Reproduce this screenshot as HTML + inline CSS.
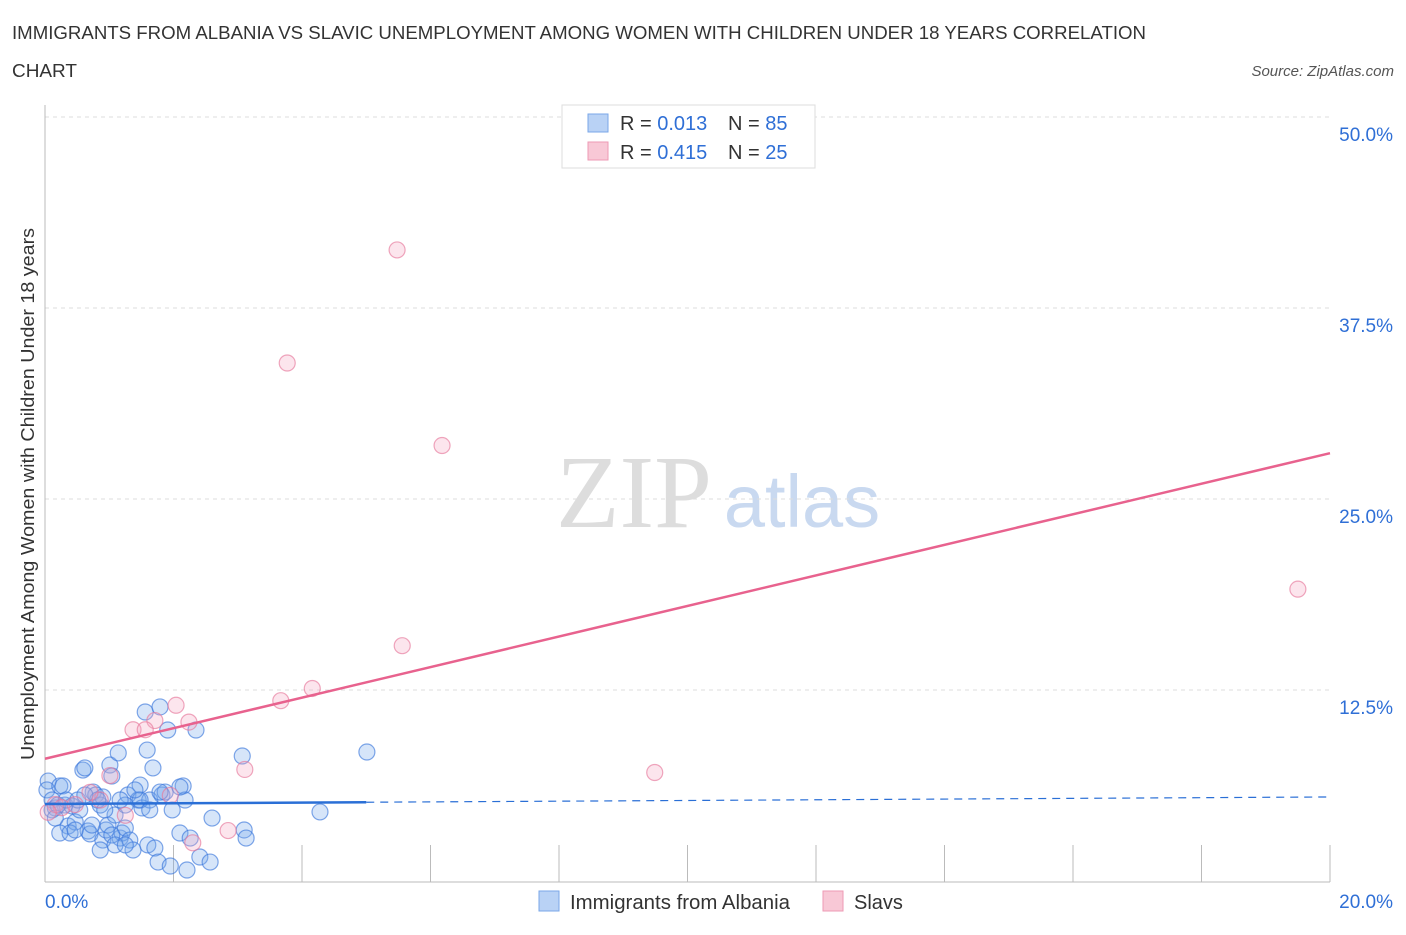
<!DOCTYPE html>
<html><head><meta charset="utf-8"><style>
body{margin:0;background:#fff;font-family:"Liberation Sans",sans-serif;}
</style></head><body>
<svg width="1406" height="930" xmlns="http://www.w3.org/2000/svg" id="chart">
<text x="12" y="39" font-size="18" fill="#333" textLength="1134" lengthAdjust="spacingAndGlyphs">IMMIGRANTS FROM ALBANIA VS SLAVIC UNEMPLOYMENT AMONG WOMEN WITH CHILDREN UNDER 18 YEARS CORRELATION</text>
<text x="12" y="77" font-size="18" fill="#333" textLength="65" lengthAdjust="spacingAndGlyphs">CHART</text>
<text x="1394" y="76" font-size="15" fill="#555" font-style="italic" text-anchor="end">Source: ZipAtlas.com</text>
<g>
<text x="634" y="527" font-size="104" font-family="Liberation Serif,serif" fill="#ddd" text-anchor="middle">ZIP</text>
<text x="802" y="527" font-size="74" fill="#c9d9f0" text-anchor="middle">atlas</text>
</g>
<g id="grid"></g><g id="axes"></g><g id="marks"></g>
<text transform="translate(34,494) rotate(-90)" font-size="18" fill="#333" text-anchor="middle" textLength="532" lengthAdjust="spacingAndGlyphs">Unemployment Among Women with Children Under 18 years</text>
<g>
<rect x="562" y="105" width="253" height="63" fill="#fff" stroke="#ddd"/>
<rect x="588" y="114" width="20" height="18" fill="#b9d2f5" stroke="#7aa7e8"/>
<rect x="588" y="142" width="20" height="18" fill="#f8c8d6" stroke="#ee9ab4"/>
<text x="620" y="130" font-size="20" fill="#333">R = <tspan fill="#2f6fd6">0.013</tspan></text>
<text x="728" y="130" font-size="20" fill="#333">N = <tspan fill="#2f6fd6">85</tspan></text>
<text x="620" y="159" font-size="20" fill="#333">R = <tspan fill="#2f6fd6">0.415</tspan></text>
<text x="728" y="159" font-size="20" fill="#333">N = <tspan fill="#2f6fd6">25</tspan></text>
</g>
<g>
<rect x="539" y="891" width="20" height="20" fill="#b9d2f5" stroke="#7aa7e8"/>
<text x="570" y="909" font-size="20" fill="#333" textLength="220" lengthAdjust="spacingAndGlyphs">Immigrants from Albania</text>
<rect x="823" y="891" width="20" height="20" fill="#f8c8d6" stroke="#ee9ab4"/>
<text x="854" y="909" font-size="20" fill="#333">Slavs</text>
</g>
</svg>
<script>
const yTicks=[12.5,25,37.5,50];
const yTickLabels=["12.5%","25.0%","37.5%","50.0%"];
const xTicks=[0,2,4,6,8,10,12,14,16,18,20];
const albaniaX=[0.05,0.03,0.11,0.16,0.23,0.28,0.31,0.36,0.42,0.47,0.54,0.59,0.62,0.67,0.70,0.75,0.79,0.86,0.90,0.90,0.95,0.98,1.01,1.04,1.09,1.14,1.17,1.20,1.25,1.29,1.32,1.37,1.45,1.48,1.51,1.56,1.59,1.60,1.63,1.68,1.71,1.76,1.79,1.82,1.87,1.91,1.95,1.98,2.10,2.15,2.18,2.21,2.26,2.35,2.41,2.57,2.60,3.07,3.10,3.13,4.28,5.01,0.11,0.20,0.33,0.51,0.82,1.25,1.48,1.40,2.10,1.04,0.86,0.62,0.23,0.39,0.16,1.17,1.79,0.93,1.09,0.73,1.63,0.47,1.25];
const albaniaY=[6.54,5.96,5.3,4.78,6.22,6.22,4.97,3.6,4.91,3.86,4.65,7.26,7.4,3.27,3.08,5.82,5.63,4.97,5.5,2.68,3.34,3.66,7.59,6.87,4.32,8.38,2.81,3.14,3.47,5.63,2.68,2.03,5.3,6.28,4.78,11.06,8.57,2.36,5.3,7.4,2.16,1.24,11.39,5.63,5.82,9.88,0.98,4.65,3.14,6.22,5.3,0.72,2.81,9.88,1.57,1.24,4.12,8.18,3.34,2.81,4.52,8.44,4.65,4.97,5.3,5.3,5.3,4.97,5.3,5.96,6.15,3.01,2.03,5.63,3.14,3.14,4.12,5.3,5.82,4.65,2.36,3.66,4.65,3.34,2.36];
const slavsX=[5.48,3.77,6.18,19.5,5.56,4.16,3.67,2.04,2.24,1.71,1.37,1.56,3.11,9.49,2.85,2.30,1.01,0.86,0.16,0.26,0.05,0.70,1.95,1.25,0.47];
const slavsY=[41.3,33.9,28.5,19.1,15.4,12.6,11.8,11.5,10.4,10.5,9.9,9.9,7.3,7.1,3.3,2.5,6.9,5.3,5.0,4.8,4.5,5.8,5.6,4.3,5.0];
const albaniaTrend=[5.04,5.5];
const slavsTrend=[8.0,28.0];
const NS="http://www.w3.org/2000/svg";
const X=v=>45+v/20*1285;
const Y=v=>881-v/12.5*191;
function mk(tag,attrs,parent){const e=document.createElementNS(NS,tag);for(const k in attrs)e.setAttribute(k,attrs[k]);document.getElementById(parent).appendChild(e);return e;}
let e;
yTicks.forEach((t,i)=>{
 e=mk('line',{x1:45,x2:1330,y1:Y(t),y2:Y(t),stroke:'#ddd','stroke-dasharray':'4,4'},'grid');
 
 
 e=mk('text',{x:1393,y:Y(t)+24,'font-size':19,fill:'#2f6fd6','text-anchor':'end'},'grid');
 e.textContent=yTickLabels[i];
 
 
});
e=mk('line',{x1:45,x2:1330,y1:117,y2:117,stroke:'#ddd','stroke-dasharray':'4,4'},'grid');


e=mk('line',{x1:45,x2:45,y1:105,y2:882,stroke:'#bbb'},'axes');


e=mk('line',{x1:45,x2:1330,y1:882,y2:882,stroke:'#bbb'},'axes');


xTicks.forEach(t=>{
 e=mk('line',{x1:X(t),x2:X(t),y1:845,y2:882,stroke:'#bbb'},'axes');
 
 
});
e=mk('text',{x:45,y:908,'font-size':19,fill:'#2f6fd6'},'axes');e.textContent='0.0%';


e=mk('text',{x:1393,y:908,'font-size':19,fill:'#2f6fd6','text-anchor':'end'},'axes');e.textContent='20.0%';


albaniaX.forEach((x,i)=>{
 e=mk('circle',{cx:X(x),cy:Y(albaniaY[i]),r:8,fill:'rgba(120,170,235,0.3)',stroke:'rgba(60,120,220,0.65)','stroke-width':1.2},'marks');
 
 
});
slavsX.forEach((x,i)=>{
 e=mk('circle',{cx:X(x),cy:Y(slavsY[i]),r:8,fill:'rgba(245,170,195,0.3)',stroke:'rgba(230,120,155,0.65)','stroke-width':1.2},'marks');
 
 
});
const bAt=v=>albaniaTrend[0]+(albaniaTrend[1]-albaniaTrend[0])*v/20;
e=mk('line',{x1:X(0),y1:Y(bAt(0)),x2:X(5),y2:Y(bAt(5)),stroke:'#2a6fd6','stroke-width':2.5},'marks');


e=mk('line',{x1:X(5),y1:Y(bAt(5)),x2:X(20),y2:Y(bAt(20)),stroke:'#2a6fd6','stroke-width':1.2,'stroke-dasharray':'8,6'},'marks');


e=mk('line',{x1:X(0),y1:Y(slavsTrend[0]),x2:X(20),y2:Y(slavsTrend[1]),stroke:'#e8628e','stroke-width':2.5},'marks');


</script>
</body></html>
